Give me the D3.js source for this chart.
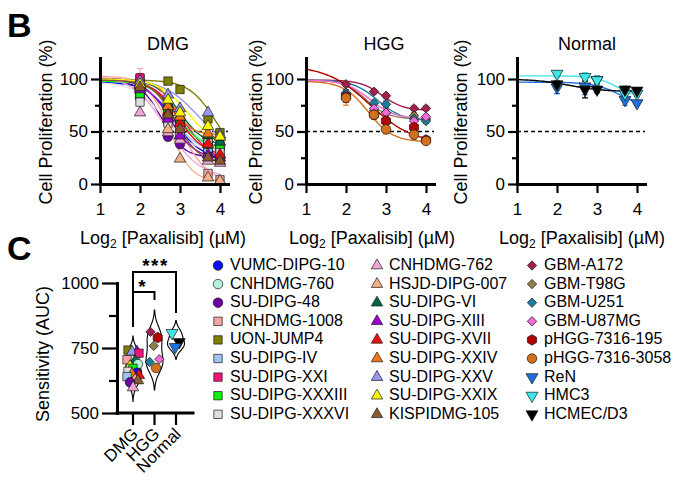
<!DOCTYPE html>
<html>
<head>
<meta charset="utf-8">
<script src="https://cdn.jsdelivr.net/npm/d3@7"></script>
<style>
  body { margin: 0; background: #fff; }
  text { font-family: Arial, "Liberation Sans", sans-serif; fill: #000; }
</style>
</head>
<body>
<div id="figura"></div>
<script>
// ==============================
// DATOS
// ==============================

// posiciones de dosis en el eje (texto original: Log2 [Paxalisib])
const dosis = [2, 2.7, 3, 3.7, 4];

const lineas = [
  "VUMC-DIPG-10", "CNHDMG-760", "SU-DIPG-48", "CNHDMG-1008", "UON-JUMP4",
  "SU-DIPG-IV", "SU-DIPG-XXI", "SU-DIPG-XXXIII", "SU-DIPG-XXXVI",
  "CNHDMG-762", "HSJD-DIPG-007", "SU-DIPG-VI", "SU-DIPG-XIII", "SU-DIPG-XVII",
  "SU-DIPG-XXIV", "SU-DIPG-XXV", "SU-DIPG-XXIX", "KISPIDMG-105",
  "GBM-A172", "GBM-T98G", "GBM-U251", "GBM-U87MG", "pHGG-7316-195",
  "pHGG-7316-3058", "ReN", "HMC3", "HCMEC/D3"
];

const grupos = [
  "DMG", "DMG", "DMG", "DMG", "DMG", "DMG", "DMG", "DMG", "DMG",
  "DMG", "DMG", "DMG", "DMG", "DMG", "DMG", "DMG", "DMG", "DMG",
  "HGG", "HGG", "HGG", "HGG", "HGG", "HGG",
  "Normal", "Normal", "Normal"
];

const colores = [
  "#0a0aff", "#b5f0dc", "#6b00a0", "#f6a5a5", "#7f7f00", "#a0c4f2", "#f0147a", "#10f010", "#dedede",
  "#f2a6d6", "#f4b088", "#00664a", "#9a00d0", "#ee1010", "#f07812", "#9898f0", "#f8f800", "#8a5a2c",
  "#a3204d", "#8e7e4a", "#1f7f9e", "#f46bd8", "#b30000", "#d2701e",
  "#1d70e0", "#3ee6e6", "#000000"
];

const formas = [
  "circulo", "circulo", "circulo", "cuadrado", "cuadrado", "cuadrado", "cuadrado", "cuadrado", "cuadrado",
  "triangulo", "triangulo", "triangulo", "triangulo", "triangulo", "triangulo", "triangulo", "triangulo", "triangulo",
  "rombo", "rombo", "rombo", "rombo", "hexagono", "circulo",
  "invertido", "invertido", "invertido"
];

// proliferación celular (%) en cada dosis
const proliferacion = [
  [82, 66, 56, 31, 26], [92, 72, 60, 40, 34], [86, 45, 38, 26, 24], [100, 62, 52, 10, 4],
  [96, 98, 90, 62, 49], [90, 60, 48, 34, 33], [101, 72, 60, 38, 22], [86, 72, 60, 38, 37],
  [78, 58, 48, 42, 30],
  [68, 49, 42, 22, 20], [95, 52, 24, 6, 3], [94, 76, 64, 46, 40], [90, 62, 46, 28, 25],
  [94, 68, 58, 38, 28], [95, 74, 64, 48, 45], [98, 85, 72, 68, 47], [95, 80, 68, 55, 45],
  [92, 66, 52, 25, 22],
  [95, 88, 84, 72, 72], [86, 70, 68, 65, 62], [87, 77, 76, 62, 60], [85, 72, 68, 60, 64],
  [83, 66, 60, 54, 42], [82, 66, 52, 47, 41],
  [92, 93, 99, 80, 77], [105, 102, 99, 86, 86], [95, 90, 90, 90, 89]
];

// error estándar (%)
const errores = [
  [0, 0, 0, 0, 0], [0, 0, 0, 0, 0], [0, 0, 0, 0, 0], [10, 0, 0, 3, 2],
  [0, 0, 0, 0, 0], [0, 0, 0, 0, 0], [4, 0, 0, 0, 0], [0, 0, 0, 0, 0],
  [0, 0, 0, 0, 0],
  [0, 0, 0, 0, 0], [0, 0, 0, 0, 0], [0, 0, 0, 0, 0], [0, 0, 0, 0, 0],
  [0, 0, 0, 0, 0], [0, 0, 0, 0, 0], [0, 0, 0, 0, 0], [0, 0, 0, 0, 0],
  [0, 0, 0, 0, 0],
  [2, 2, 2, 2, 2], [4, 3, 3, 3, 2], [3, 3, 3, 3, 2], [4, 3, 3, 3, 2],
  [5, 4, 4, 4, 3], [7, 4, 4, 4, 3],
  [6, 8, 4, 5, 2], [3, 4, 3, 3, 3], [3, 8, 3, 3, 2]
];

// ajuste sigmoidal: [superior, inferior, logIC50, pendiente]
const ajustes = [
  [97, 24, 2.85, 1.3], [99, 30, 3.0, 1.2], [99, 25, 2.55, 1.6], [103, 0, 3.0, 1.2],
  [99, 20, 3.9, 1.3], [100, 32, 2.8, 1.5], [101, 18, 3.1, 1.1], [98, 34, 2.9, 1.4],
  [97, 30, 2.6, 1.2],
  [104, 5, 2.65, 1.0], [100, 2, 2.75, 1.6], [100, 36, 3.0, 1.4], [100, 24, 2.75, 1.4],
  [100, 26, 2.95, 1.3], [99, 47, 2.85, 2.0], [100, 30, 3.45, 1.0], [100, 35, 3.2, 1.2],
  [99, 20, 2.9, 1.5],
  [99, 70, 2.9, 1.6], [99, 62, 2.5, 1.6], [99, 60, 2.8, 1.4], [99, 62, 2.6, 1.4],
  [113, 38, 2.6, 0.8], [98, 40, 2.55, 1.4],
  [97, 72, 3.6, 1.3], [103, 82, 3.5, 1.6], [100, 88, 2.3, 1.0]
];

// sensibilidad (AUC)
const auc = [
  655, 688, 618, 705, 742, 640, 730, 672, 660,
  598, 628, 700, 735, 645, 650, 735, 680, 625,
  812, 758, 696, 707, 790, 673,
  754, 808, 773
];

const categorias = ["DMG", "HGG", "Normal"];
const ticksX = [1, 2, 3, 4];
const ticksY = [0, 50, 100];
const ticksYmenores = [25, 75];
const ticksAUC = [500, 750, 1000];
const ticksAUCmenores = [625, 875];

// ==============================
// SVG BASE
// ==============================

const W = 680, H = 489;
const svg = d3.select("#figura").append("svg")
  .attr("width", W).attr("height", H)
  .attr("viewBox", `0 0 ${W} ${H}`);

const hexagono = {
  draw(ctx, size) {
    const r = Math.sqrt(size / (1.5 * Math.sqrt(3)));
    for (let k = 0; k < 6; k++) {
      const a = Math.PI / 6 + k * Math.PI / 3;
      const px = r * Math.cos(a), py = r * Math.sin(a);
      if (k === 0) ctx.moveTo(px, py); else ctx.lineTo(px, py);
    }
    ctx.closePath();
  }
};

function simbolo(forma) {
  switch (forma) {
    case "circulo": return { d: d3.symbol(d3.symbolCircle, 72)(), rot: 0 };
    case "cuadrado": return { d: d3.symbol(d3.symbolSquare, 70)(), rot: 0 };
    case "triangulo": return { d: d3.symbol(d3.symbolTriangle, 56)(), rot: 0 };
    case "invertido": return { d: d3.symbol(d3.symbolTriangle, 62)(), rot: 180 };
    case "rombo": return { d: d3.symbol(d3.symbolSquare, 44)(), rot: 45 };
    case "hexagono": return { d: d3.symbol(hexagono, 72)(), rot: 0 };
  }
}

function dibujarSimbolo(g, i, cx, cy) {
  const s = simbolo(formas[i]);
  g.append("path")
    .attr("d", s.d)
    .attr("transform", `translate(${cx},${cy}) rotate(${s.rot})`)
    .attr("fill", colores[i])
    .attr("stroke", "#1a1a1a")
    .attr("stroke-width", 0.7);
}

const logistica = (p, t) => p[1] + (p[0] - p[1]) / (1 + Math.pow(10, (t - p[2]) * p[3]));

function estilizarEje(sel, grosor) {
  sel.select(".domain").attr("stroke-width", grosor).attr("stroke-linecap", "square");
  sel.selectAll(".tick line").attr("stroke-width", 2.2);
  sel.selectAll(".tick text").attr("font-size", 17).attr("fill", "#000");
}

// ==============================
// PANEL B: CURVAS DOSIS-RESPUESTA
// ==============================

const paneles = [
  { grupo: "DMG", izq: 100, titulo: 168, ylab: 46, xlab: 163 },
  { grupo: "HGG", izq: 306, titulo: 384, ylab: 256, xlab: 372 },
  { grupo: "Normal", izq: 517, titulo: 587, ylab: 461, xlab: 582 }
];

svg.append("text").attr("x", 7).attr("y", 37)
  .attr("font-size", 34).attr("font-weight", "bold").text("B");

paneles.forEach(p => {
  const x = d3.scaleLinear().domain([1, 4.2]).range([p.izq, p.izq + 128]);
  const y = d3.scaleLinear().domain([0, 120]).range([184, 58]);
  const g = svg.append("g");
  const idx = d3.range(lineas.length).filter(i => grupos[i] === p.grupo);

  g.append("line")
    .attr("x1", x(1)).attr("x2", x(4.2))
    .attr("y1", y(50)).attr("y2", y(50))
    .attr("stroke", "#000").attr("stroke-width", 1.6)
    .attr("stroke-dasharray", "4,3");

  const linea = d3.line().x(d => x(d[0])).y(d => y(d[1]));
  idx.forEach(i => {
    const pts = d3.range(1, 4.001, 0.05).map(t => [t, logistica(ajustes[i], t)]);
    g.append("path").attr("d", linea(pts))
      .attr("fill", "none").attr("stroke", colores[i]).attr("stroke-width", 1.4);
  });

  idx.forEach(i => {
    dosis.forEach((t, j) => {
      const e = errores[i][j];
      if (!e) return;
      const v = proliferacion[i][j];
      g.append("path")
        .attr("d", `M${x(t) - 3},${y(v + e)}H${x(t) + 3}M${x(t)},${y(v + e)}V${y(v - e)}M${x(t) - 3},${y(v - e)}H${x(t) + 3}`)
        .attr("fill", "none").attr("stroke", colores[i]).attr("stroke-width", 1.2);
    });
  });

  idx.forEach(i => {
    dosis.forEach((t, j) => dibujarSimbolo(g, i, x(t), y(proliferacion[i][j])));
  });

  // Ejes
  g.append("g").attr("transform", `translate(0,${y(0)})`)
    .call(d3.axisBottom(x).tickValues(ticksX).tickFormat(d3.format("d"))
      .tickSize(9).tickPadding(10).tickSizeOuter(0))
    .call(s => estilizarEje(s, 3));
  g.append("g").attr("transform", `translate(${x(1)},0)`)
    .call(d3.axisLeft(y).tickValues(ticksYmenores).tickSize(5).tickFormat(""))
    .call(s => { s.select(".domain").remove(); s.selectAll(".tick line").attr("stroke-width", 2.2); });
  g.append("g").attr("transform", `translate(${x(1)},0)`)
    .call(d3.axisLeft(y).tickValues(ticksY).tickFormat(d3.format("d"))
      .tickSize(9).tickPadding(3).tickSizeOuter(0))
    .call(s => estilizarEje(s, 3));

  g.append("text").attr("x", p.titulo).attr("y", 50)
    .attr("text-anchor", "middle").attr("font-size", 18).text(p.grupo);

  g.append("text")
    .attr("transform", `translate(${p.ylab},122) rotate(-90)`)
    .attr("text-anchor", "middle").attr("dominant-baseline", "central")
    .attr("font-size", 18).text("Cell Proliferation (%)");

  const xt = g.append("text").attr("x", p.xlab).attr("y", 244)
    .attr("text-anchor", "middle").attr("font-size", 18);
  xt.append("tspan").text("Log");
  xt.append("tspan").attr("font-size", 12).attr("dy", 4).text("2");
  xt.append("tspan").attr("dy", -4).text(" [Paxalisib] (µM)");
});

// ==============================
// PANEL C: VIOLINES DE SENSIBILIDAD
// ==============================

svg.append("text").attr("x", 7).attr("y", 260)
  .attr("font-size", 34).attr("font-weight", "bold").text("C");

const yC = d3.scaleLinear().domain([500, 1000]).range([413, 283]);
const xC = d3.scalePoint().domain(categorias).range([133, 176]);
const gC = svg.append("g");

function densidad(vals, bw, ys) {
  return ys.map(v => [v, d3.sum(vals, u => Math.exp(-0.5 * ((v - u) / bw) ** 2))]);
}

categorias.forEach(cat => {
  const vals = auc.filter((_, i) => grupos[i] === cat);
  const sd = d3.deviation(vals);
  const bw = 0.9 * sd * Math.pow(vals.length, -0.2);
  const lo = d3.min(vals) - 2.4 * bw, hi = d3.max(vals) + 2.4 * bw;
  const ys = d3.range(lo, hi + 0.1, (hi - lo) / 60);
  const dens = densidad(vals, bw, ys);
  const ancho = d3.scaleLinear().domain([0, d3.max(dens, d => d[1])]).range([0, 8.5]);
  const cx = xC(cat);
  const area = d3.area()
    .y(d => yC(d[0]))
    .x0(d => cx - ancho(d[1]))
    .x1(d => cx + ancho(d[1]))
    .curve(d3.curveBasis);
  gC.append("path").attr("d", area(dens))
    .attr("fill", "#fff").attr("stroke", "#000").attr("stroke-width", 1.1);
});

// puntos: desplazamiento alterno dentro de cada violín
const desplaz = [-5, 4, -1, 6, -6, 2, 5, -3, 0];
categorias.forEach(cat => {
  const idx = d3.range(lineas.length).filter(i => grupos[i] === cat)
    .sort((a, b) => d3.descending(auc[a], auc[b]));
  idx.forEach((i, k) => {
    const dx = cat === "DMG" ? desplaz[k % desplaz.length] : desplaz[k % desplaz.length] * 0.8;
    dibujarSimbolo(gC, i, xC(cat) + dx, yC(auc[i]));
  });
});

// Ejes del panel C
gC.append("g").attr("transform", "translate(117,0)")
  .call(d3.axisLeft(yC).tickValues(ticksAUCmenores).tickSize(8).tickFormat(""))
  .call(s => { s.select(".domain").remove(); s.selectAll(".tick line").attr("stroke-width", 2.2); });
gC.append("g").attr("transform", "translate(117,0)")
  .call(d3.axisLeft(yC).tickValues(ticksAUC).tickFormat(d3.format("d"))
    .tickSize(15).tickPadding(3).tickSizeOuter(0))
  .call(s => estilizarEje(s, 3));

gC.append("line").attr("x1", 117).attr("x2", 193)
  .attr("y1", yC(500)).attr("y2", yC(500))
  .attr("stroke", "#000").attr("stroke-width", 3).attr("stroke-linecap", "square");
categorias.forEach(cat => {
  gC.append("line").attr("x1", xC(cat)).attr("x2", xC(cat))
    .attr("y1", yC(500)).attr("y2", yC(500) + 12)
    .attr("stroke", "#000").attr("stroke-width", 2.2);
  gC.append("text")
    .attr("transform", `translate(${xC(cat) + 6},${yC(500) + 22}) rotate(-45)`)
    .attr("text-anchor", "end").attr("font-size", 17).text(cat);
});

gC.append("text")
  .attr("transform", "translate(43,354) rotate(-90)")
  .attr("text-anchor", "middle").attr("dominant-baseline", "central")
  .attr("font-size", 18).text("Sensitivity (AUC)");

// Significancia
const corchetes = [
  { de: "DMG", a: "HGG", alto: 965, pataA: 935, txt: "*" },
  { de: "DMG", a: "Normal", alto: 1042, pataA: 885, txt: "***" }
];
const pataDMG = 831;
corchetes.forEach(c => {
  gC.append("path")
    .attr("d", `M${xC(c.de)},${yC(pataDMG)}V${yC(c.alto)}H${xC(c.a)}V${yC(c.pataA)}`)
    .attr("fill", "none").attr("stroke", "#000").attr("stroke-width", 2);
  gC.append("text")
    .attr("x", (xC(c.de) + xC(c.a)) / 2 + (c.txt === "*" ? -1 : 1))
    .attr("y", yC(c.alto) + (c.txt === "*" ? 1 : 0))
    .attr("text-anchor", "middle").attr("font-size", 19).attr("font-weight", "bold")
    .attr("letter-spacing", 1.5).text(c.txt);
});

// ==============================
// LEYENDA
// ==============================

const columnas = [{ marca: 218, texto: 230 }, { marca: 377, texto: 389 }, { marca: 532, texto: 544 }];
const gL = svg.append("g");
lineas.forEach((nombre, i) => {
  const col = columnas[Math.floor(i / 9)];
  const fila = i % 9;
  const cy = 264.5 + fila * 18.6;
  dibujarSimbolo(gL, i, col.marca, cy + 1);
  gL.append("text").attr("x", col.texto).attr("y", cy)
    .attr("dominant-baseline", "central").attr("font-size", 16).text(nombre);
});
</script>
</body>
</html>
